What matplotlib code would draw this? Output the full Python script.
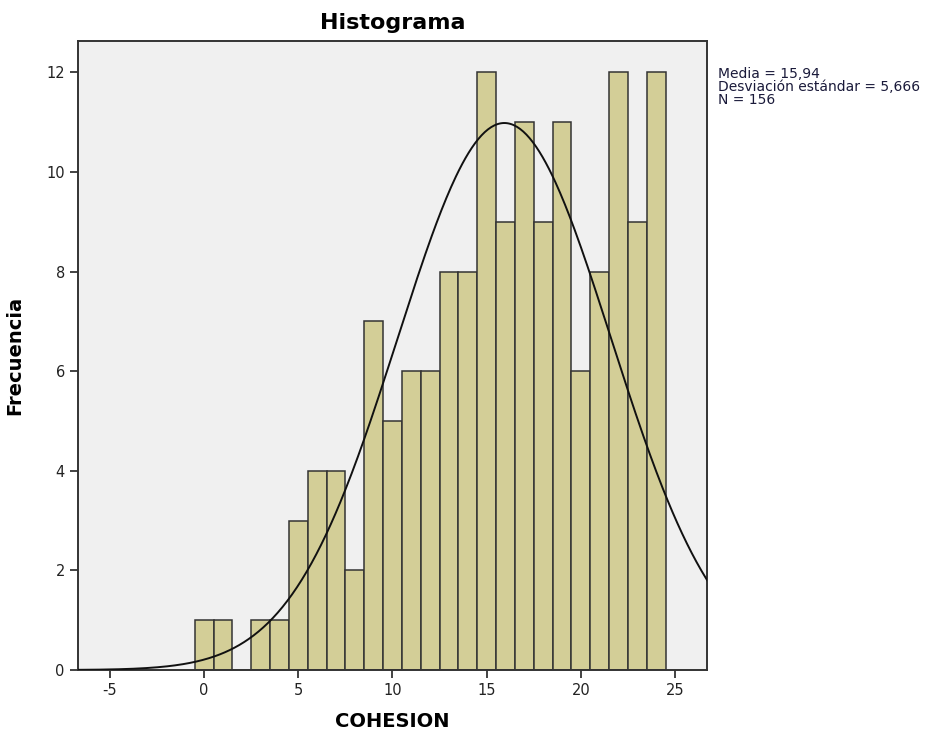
import numpy as np
import matplotlib.pyplot as plt

plt.rcParams["axes.unicode_minus"] = False

# COHESION score bins (width 1) and their frequencies
scores = [0, 1, 2, 3, 4, 5, 6, 7, 8, 9, 10, 11, 12, 13, 14, 15, 16, 17, 18, 19, 20, 21, 22, 23, 24]
counts = [1, 1, 0, 1, 1, 3, 4, 4, 2, 7, 5, 6, 6, 8, 8, 12, 9, 11, 9, 11, 6, 8, 12, 9, 12]
media = 15.94
desviacion = 5.666
n_total = 156

fig = plt.figure(figsize=(9.37, 7.38), dpi=100)
ax = fig.add_axes([0.0832, 0.0921, 0.6713, 0.8523])
ax.set_facecolor("#f0f0f0")

ax.bar(scores, counts, width=1.0, color="#d3ce97", edgecolor="#333333", linewidth=1.1, zorder=2)

# normal curve scaled to counts
x = np.linspace(-7, 27, 400)
y = n_total * 1.0 / (desviacion * np.sqrt(2 * np.pi)) * np.exp(-0.5 * ((x - media) / desviacion) ** 2)
ax.plot(x, y, color="#111111", linewidth=1.4, zorder=3)

ax.set_xlim(-6.7, 26.7)
ax.set_ylim(0, 12.63)
ax.set_xticks([-5, 0, 5, 10, 15, 20, 25])
ax.set_yticks([0, 2, 4, 6, 8, 10, 12])
ax.tick_params(direction="out", length=6, width=1.2, labelsize=10.5, colors="#222222")

for side in ["left", "bottom", "top", "right"]:
    ax.spines[side].set_linewidth(1.4)
    ax.spines[side].set_color("#333333")

ax.set_title("Histograma", fontsize=16, fontweight="bold", pad=9)
ax.set_xlabel("COHESION", fontsize=14, fontweight="bold", labelpad=10)
ax.set_ylabel("Frecuencia", fontsize=14, fontweight="bold", labelpad=16)

stats = "Media = 15,94\nDesviación estándar = 5,666\nN = 156"
fig.text(718 / 937, 1 - 67 / 738, stats, fontsize=10, color="#1a1a3a",
         va="top", ha="left", linespacing=0.9)

fig.savefig("out.png", dpi=100)
